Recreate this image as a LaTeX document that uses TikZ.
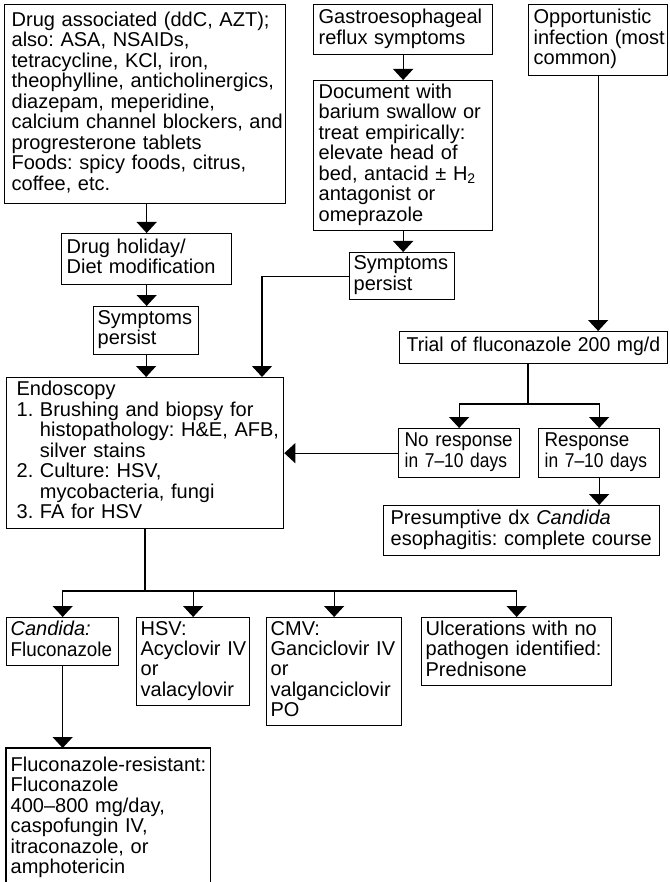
\documentclass[tikz,border=0pt]{standalone}
\usepackage{fontspec}
\setmainfont{Liberation Sans}
\newfontfamily\narrowA[FakeStretch=0.94]{Liberation Sans}
\newfontfamily\narrowB[FakeStretch=0.87]{Liberation Sans}
\newfontfamily\narrowC[FakeStretch=0.97]{Liberation Sans}
\usetikzlibrary{arrows.meta}
\newcommand\fsA{\fontsize{20}{20}\selectfont}
\newcommand\tl[1]{\begin{tabular}{@{}l@{}}#1\end{tabular}}
\begin{document}
\frenchspacing
\begin{tikzpicture}[x=1pt,y=-1pt,line width=1.3pt,
  box/.style={draw, line width=1.3pt, anchor=north west, inner xsep=4pt, inner ysep=0pt,
    align=left, font=\fsA},
  arr/.style={-{Triangle[width=20pt,length=11pt]}}]
\useasboundingbox (0,0) rectangle (669,882);
\fill[white] (0,0) rectangle (669,882);
% top row
\node[box,inner xsep=7pt,text width=267pt,minimum height=199pt] (drug) at (4,4)
  {\tl{Drug associated (ddC, AZT);\\also: ASA, NSAIDs,\\tetracycline, KCl, iron,\\theophylline, anticholinergics,\\diazepam, meperidine,\\calcium channel blockers, and\\progresterone tablets\\Foods: spicy foods, citrus,\\coffee, etc.}};
\node[box,inner xsep=5pt,text width=169pt,minimum height=50pt] (gastro) at (313,4)
  {\tl{Gastroesophageal\\reflux symptoms}};
\node[box,inner xsep=5pt,text width=169pt,minimum height=150pt] (doc) at (313,80)
  {\tl{Document with\\barium swallow or\\treat empirically:\\elevate head of\\bed, antacid ± H\textsubscript{2}\\antagonist or\\omeprazole}};
\node[box,inner xsep=5pt,text width=129pt,minimum height=71pt] (opp) at (528,4)
  {\tl{Opportunistic\\infection (most\\common)}};
\node[box,inner xsep=5pt,text width=160pt,minimum height=51pt] (dh) at (61,233)
  {\tl{Drug holiday/\\Diet modification}};
\node[box,text width=97pt,minimum height=48pt] (sympL) at (93,306)
  {\tl{Symptoms\\persist}};
\node[box,text width=97pt,minimum height=47pt] (sympM) at (349,252)
  {\tl{Symptoms\\persist}};
% middle
\node[box,inner xsep=10pt,text width=257pt,minimum height=151pt] (endo) at (6,377)
  {\tl{Endoscopy\\1.\ Brushing and biopsy for\\\hphantom{1.\ }histopathology: H\&E, AFB,\\\hphantom{1.\ }silver stains\\2.\ Culture: HSV,\\\hphantom{2.\ }mycobacteria, fungi\\3.\ FA for HSV}};
\node[box,inner xsep=7pt,text width=254pt,minimum height=32pt] (trial) at (399,331)
  {\tl{{\narrowC Trial of fluconazole 200 mg/d}}};
\node[box,inner xsep=6pt,text width=109pt,minimum height=49pt] (noresp) at (398,428)
  {\tl{{\narrowA No response}\\{\narrowB in 7–10 days}}};
\node[box,inner xsep=6pt,text width=109pt,minimum height=49pt] (resp) at (538,428)
  {\tl{{\narrowA Response}\\{\narrowB in 7–10 days}}};
\node[box,inner xsep=7pt,text width=262pt,minimum height=50pt] (pres) at (383,505)
  {\tl{Presumptive dx \textit{Candida}\\esophagitis: complete course}};
% bottom
\node[box,text width=104pt,minimum height=48pt] (cand) at (6,617)
  {\tl{\textit{Candida:}\\{\narrowA Fluconazole}}};
\node[box,text width=105pt,minimum height=88pt] (hsv) at (136,617)
  {\tl{HSV:\\Acyclovir IV\\or\\valacylovir}};
\node[box,text width=127pt,minimum height=108pt] (cmv) at (266,617)
  {\tl{CMV:\\Ganciclovir IV\\or\\valganciclovir\\PO}};
\node[box,text width=182pt,minimum height=68pt] (ulcer) at (421,617)
  {\tl{Ulcerations with no\\pathogen identified:\\Prednisone}};
\node[box,draw=none,text width=195pt,inner ysep=8pt] (flucres) at (6,748)
  {\tl{Fluconazole-resistant:\\Fluconazole\\400–800 mg/day,\\caspofungin IV,\\itraconazole, or\\amphotericin}};
\coordinate (bot) at (0,890);
\draw (flucres.north west |- bot) -- (flucres.north west) -- (flucres.north east) -- (flucres.north east |- bot);
% connectors
\draw[arr] (dh.north |- drug.south) -- (dh.north);
\draw[arr] (dh.south) -- (dh.south |- sympL.north);
\draw[arr] (sympL.south) -- (sympL.south |- endo.north);
\draw[arr] (gastro.south) -- (doc.north);
\draw[arr] (doc.south) -- (doc.south |- sympM.north);
\coordinate (mjoin) at (262,377);
\draw[arr] (sympM.west) -| (mjoin);
\draw[arr] (opp.south) -- (opp.south |- trial.north);
\coordinate (tsplit) at (528,404);
\draw (tsplit |- trial.south) -- (tsplit);
\draw[arr] (tsplit) -| (noresp.north);
\draw[arr] (tsplit) -| (resp.north);
\draw[arr] (noresp.west) -- (noresp.west -| endo.east);
\draw[arr] (resp.south) -- (resp.south |- pres.north);
\coordinate (esplit) at (145,591);
\draw (esplit |- endo.south) -- (esplit);
\draw[arr] (esplit) -| (cand.north);
\draw[arr] (esplit) -| (hsv.north);
\draw[arr] (esplit) -| (cmv.north);
\draw[arr] (esplit) -| (ulcer.north);
\draw[arr] (cand.south) -- (cand.south |- flucres.north);
\end{tikzpicture}
\end{document}
